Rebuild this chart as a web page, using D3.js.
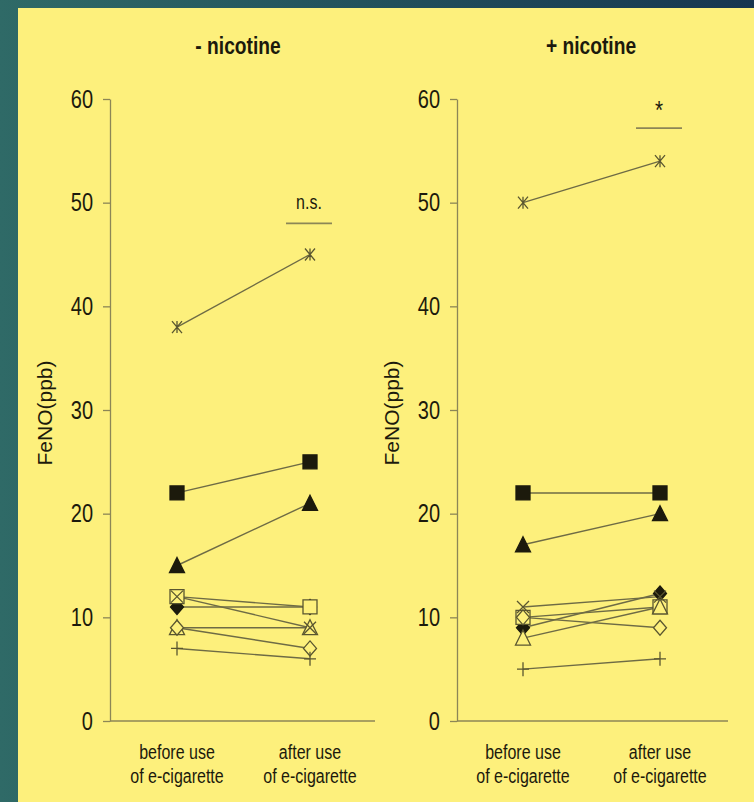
<!DOCTYPE html>
<html>
<head>
<meta charset="utf-8">
<script src="https://cdn.jsdelivr.net/npm/d3@7"></script>
<style>
  html, body { margin: 0; padding: 0; background: #1f4c5c; }
  svg { display: block; }
</style>
</head>
<body>
<svg id="chart" width="754" height="802"></svg>
<script>
// Time points on the x axis
const timepoints = ["before", "after"];
const timeLabels = [["before use", "of e-cigarette"], ["after use", "of e-cigarette"]];

// One symbol per subject
const subjects = ["asterisk", "filledSquare", "filledTriangle", "openSquare", "cross",
                  "filledDiamond", "openTriangle", "openDiamond", "plus"];

// FeNO (ppb) without nicotine
const noNicotineBefore = [38, 22, 15, 12, 12, 11, 9, 9, 7];
const noNicotineAfter  = [45, 25, 21, 11, 9, 11, 9, 7, 6];

// FeNO (ppb) with nicotine
const nicotineBefore = [50, 22, 17, 10, 11, 9, 8, 10, 5];
const nicotineAfter  = [54, 22, 20, 11, 12, 12.3, 11, 9, 6];

const yTicks = [0, 10, 20, 30, 40, 50, 60];
const panelTitles = ["- nicotine", "+ nicotine"];
const significance = ["n.s.", "*"];
const sigLevel = [48, 57.2];
const yTitle = "FeNO(ppb)";

const svg = d3.select("#chart");
const W = 754, H = 802;

// Backdrop and panel
const defs = svg.append("defs");
const grad = defs.append("linearGradient").attr("id", "bg").attr("x1", "0").attr("x2", "1").attr("y1", "0").attr("y2", "0");
grad.append("stop").attr("offset", "0").attr("stop-color", "#2f6a67");
grad.append("stop").attr("offset", "1").attr("stop-color", "#163650");
svg.append("rect").attr("width", W).attr("height", H).attr("fill", "url(#bg)");
svg.append("rect").attr("x", 18).attr("y", 8).attr("width", W - 18).attr("height", H - 8).attr("fill", "#fdf07c");

const sans = "'Liberation Sans', Arial, sans-serif";
const ink = "#1c1a0c";
const axisColor = "#8c8656";
const lineColor = "#6e6b45";
const bgFill = "#fdf07c";
const NARROW = 0.8; // horizontal squeeze for the condensed lettering

const y = d3.scaleLinear().domain([0, 60]).range([721, 99]);

const panels = [
  { axisX: 110, xEnd: 375, xs: [177, 310], before: noNicotineBefore, after: noNicotineAfter, titleX: 238, yTitleX: 52 },
  { axisX: 457, xEnd: 728, xs: [523, 660], before: nicotineBefore, after: nicotineAfter, titleX: 591, yTitleX: 399 }
];

// Condensed text placed at (x, y)
function narrowText(sel, x, yy, size, anchor) {
  return sel.append("text")
    .attr("transform", `translate(${x},${yy}) scale(${NARROW},1)`)
    .attr("text-anchor", anchor || "middle")
    .attr("font-family", sans).attr("font-size", size).attr("fill", ink);
}

// Marker shapes, drawn around (0,0)
function markerPath(kind) {
  const p = d3.path();
  const s = 7;
  switch (kind) {
    case "filledSquare": case "openSquare":
      p.rect(-s, -s, 2 * s, 2 * s); break;
    case "filledTriangle": case "openTriangle":
      p.moveTo(0, -8); p.lineTo(7.5, 7); p.lineTo(-7.5, 7); p.closePath(); break;
    case "filledDiamond": case "openDiamond":
      p.moveTo(0, -7.5); p.lineTo(6.5, 0); p.lineTo(0, 7.5); p.lineTo(-6.5, 0); p.closePath(); break;
    case "cross":
      p.moveTo(-6, -6); p.lineTo(6, 6); p.moveTo(6, -6); p.lineTo(-6, 6); break;
    case "asterisk":
      p.moveTo(-5, -6); p.lineTo(5, 6); p.moveTo(5, -6); p.lineTo(-5, 6);
      p.moveTo(0, -6); p.lineTo(0, 6); break;
    case "plus":
      p.moveTo(-6, 0); p.lineTo(6, 0); p.moveTo(0, -7); p.lineTo(0, 7); break;
  }
  return p.toString();
}
function markerFill(kind) {
  if (kind.startsWith("filled")) return ink;
  if (kind.startsWith("open")) return bgFill;
  return "none";
}
function markerStroke(kind) {
  return kind.startsWith("filled") ? ink : "#5a5630";
}

panels.forEach((pnl, i) => {
  const g = svg.append("g");
  const x = d3.scaleOrdinal().domain(timepoints).range(pnl.xs);

  // Panel title
  narrowText(g, pnl.titleX, 54, 24).attr("font-weight", "bold").text(panelTitles[i]);

  // Y axis
  const axis = d3.axisLeft(y).tickValues(yTicks).tickSize(7).tickSizeOuter(0);
  const ag = g.append("g").attr("transform", `translate(${pnl.axisX},0)`).call(axis);
  ag.select(".domain").attr("stroke", axisColor).attr("stroke-width", 1.3);
  ag.selectAll(".tick line").attr("stroke", axisColor).attr("stroke-width", 1.3);
  ag.selectAll(".tick text")
    .attr("x", 0).attr("dy", null)
    .attr("transform", `translate(-17,8) scale(${NARROW},1)`)
    .attr("font-family", sans).attr("font-size", 25).attr("fill", ink);

  // Baseline
  g.append("line").attr("x1", pnl.axisX).attr("x2", pnl.xEnd).attr("y1", y(0)).attr("y2", y(0))
    .attr("stroke", axisColor).attr("stroke-width", 1.3);

  // Y title
  g.append("text").attr("transform", `translate(${pnl.yTitleX},${(y(0) + y(60)) / 2 + 3}) rotate(-90)`)
    .attr("text-anchor", "middle").attr("font-family", sans).attr("font-size", 21).attr("fill", ink)
    .text(yTitle);

  // Category labels
  timepoints.forEach((t, k) => {
    const tx = narrowText(g, x(t), 759, 20);
    timeLabels[k].forEach((line, j) => {
      tx.append("tspan").attr("x", 0).attr("y", j * 24).text(line);
    });
  });

  // Subject lines
  const rows = subjects.map((s, k) => ({ kind: s, before: pnl.before[k], after: pnl.after[k] }));
  g.selectAll("line.subj").data(rows).join("line").attr("class", "subj")
    .attr("x1", x("before")).attr("x2", x("after"))
    .attr("y1", d => y(d.before)).attr("y2", d => y(d.after))
    .attr("stroke", lineColor).attr("stroke-width", 1.4);

  // Markers, stacked in a fixed order
  const order = ["filledDiamond", "openSquare", "openTriangle", "openDiamond", "filledSquare",
                 "filledTriangle", "cross", "asterisk", "plus"];
  const pts = [];
  rows.forEach(r => timepoints.forEach(t => pts.push({ kind: r.kind, t, v: r[t] })));
  pts.sort((a, b) => order.indexOf(a.kind) - order.indexOf(b.kind));
  g.selectAll("path.mk").data(pts).join("path").attr("class", "mk")
    .attr("transform", d => `translate(${x(d.t)},${y(d.v)})`)
    .attr("d", d => markerPath(d.kind))
    .attr("fill", d => markerFill(d.kind))
    .attr("stroke", d => markerStroke(d.kind))
    .attr("stroke-width", 1.3);

  // Significance bar and label
  const ax = x("after");
  g.append("line").attr("x1", ax - 24).attr("x2", ax + 22).attr("y1", y(sigLevel[i])).attr("y2", y(sigLevel[i]))
    .attr("stroke", axisColor).attr("stroke-width", 1.8);
  narrowText(g, ax - 1, y(sigLevel[i]) - (i === 0 ? 14 : 9), i === 0 ? 20 : 26).text(significance[i]);
});
</script>
</body>
</html>
